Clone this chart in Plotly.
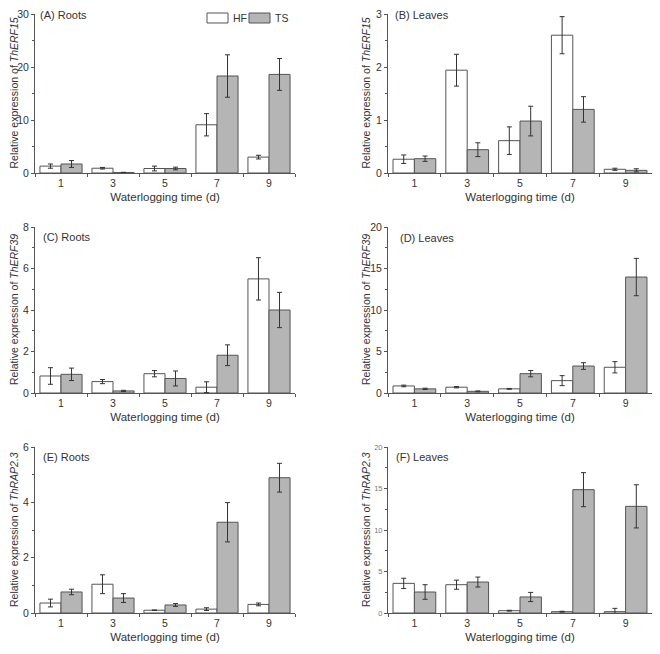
import plotly.graph_objects as go

days = ["1", "3", "5", "7", "9"]
series_names = ["HF", "TS"]

# (A) ThERF15 roots
a_hf = [1.3, 0.9, 0.85, 9.1, 3.0]
a_hf_err = [0.4, 0.15, 0.45, 2.1, 0.35]
a_ts = [1.7, 0.1, 0.85, 18.3, 18.6]
a_ts_err = [0.65, 0.03, 0.25, 4.0, 3.0]
# (B) ThERF15 leaves
b_hf = [0.26, 1.94, 0.61, 2.6, 0.07]
b_hf_err = [0.08, 0.3, 0.26, 0.35, 0.02]
b_ts = [0.27, 0.44, 0.98, 1.2, 0.05]
b_ts_err = [0.05, 0.13, 0.28, 0.24, 0.03]
# (C) ThERF39 roots
c_hf = [0.82, 0.55, 0.93, 0.28, 5.5]
c_hf_err = [0.4, 0.1, 0.15, 0.26, 1.02]
c_ts = [0.9, 0.1, 0.7, 1.82, 4.0]
c_ts_err = [0.3, 0.03, 0.36, 0.5, 0.85]
# (D) ThERF39 leaves
d_hf = [0.85, 0.7, 0.5, 1.49, 3.1]
d_hf_err = [0.1, 0.08, 0.05, 0.6, 0.68]
d_ts = [0.5, 0.2, 2.33, 3.25, 13.97]
d_ts_err = [0.08, 0.05, 0.38, 0.4, 2.25]
# (E) ThRAP2.3 roots
e_hf = [0.36, 1.04, 0.1, 0.14, 0.31]
e_hf_err = [0.14, 0.34, 0.01, 0.05, 0.05]
e_ts = [0.76, 0.54, 0.29, 3.28, 4.89]
e_ts_err = [0.1, 0.16, 0.05, 0.71, 0.52]
# (F) ThRAP2.3 leaves
f_hf = [3.57, 3.41, 0.28, 0.16, 0.16]
f_hf_err = [0.62, 0.55, 0.05, 0.05, 0.4]
f_ts = [2.53, 3.73, 1.93, 14.86, 12.85]
f_ts_err = [0.88, 0.6, 0.55, 2.05, 2.6]

panel_labels = ["(A) Roots", "(B) Leaves", "(C) Roots", "(D) Leaves", "(E) Roots", "(F) Leaves"]
genes = ["ThERF15", "ThERF15", "ThERF39", "ThERF39", "ThRAP2.3", "ThRAP2.3"]
y_max = [30, 3, 8, 20, 6, 20]
y_dtick = [10, 1, 2, 5, 2, 5]

panels = [
    (a_hf, a_hf_err, a_ts, a_ts_err),
    (b_hf, b_hf_err, b_ts, b_ts_err),
    (c_hf, c_hf_err, c_ts, c_ts_err),
    (d_hf, d_hf_err, d_ts, d_ts_err),
    (e_hf, e_hf_err, e_ts, e_ts_err),
    (f_hf, f_hf_err, f_ts, f_ts_err),
]

# page body has an 8px margin, so the figure is sized to fit the window
W, H = 652, 646
FONT = "Liberation Sans, Arial, sans-serif"
TXT = "#333333"
LINE = "#555555"
fill_colors = ["#ffffff", "#b5b5b5"]

col_px = [(27, 287), (380, 644)]
row_px = [(6, 165), (219, 385), (439, 605)]
ytitle_x_px = [6, 358]
label_px = [(30, 7), (385, 7), (33, 229), (390, 230), (33, 449), (386, 449)]

fig = go.Figure()
layout = {}
annotations = []
shapes = []

for i, (hf, hf_err, ts, ts_err) in enumerate(panels):
    r, c = divmod(i, 2)
    n = i + 1
    xa = "x" if n == 1 else f"x{n}"
    ya = "y" if n == 1 else f"y{n}"
    for s, (vals, errs) in enumerate([(hf, hf_err), (ts, ts_err)]):
        fig.add_trace(go.Bar(
            x=days, y=vals, name=series_names[s],
            xaxis=xa, yaxis=ya,
            marker=dict(color=fill_colors[s], line=dict(color=LINE, width=1)),
            error_y=dict(type="data", array=errs, visible=True, color="#333333", thickness=1, width=2.5),
            showlegend=False,
        ))
    x0, x1 = col_px[c]
    y0, y1 = row_px[r]
    small = (i == 5)
    layout[f"xaxis{'' if n == 1 else n}"] = dict(
        domain=[x0 / W, x1 / W], anchor=ya,
        type="category", range=[-0.5, 4.5],
        showline=True, linecolor=LINE, linewidth=1,
        ticks="outside", tickson="boundaries", ticklen=3, tickcolor=LINE,
        tickfont=dict(size=10.5, color=TXT, family=FONT),
        showgrid=False, zeroline=False,
        title=dict(text="Waterlogging time (d)", font=dict(size=11.5, color=TXT, family=FONT), standoff=5),
        automargin=False, fixedrange=True,
    )
    layout[f"yaxis{'' if n == 1 else n}"] = dict(
        domain=[1 - y1 / H, 1 - y0 / H], anchor=xa,
        range=[0, y_max[i]], dtick=y_dtick[i], tick0=0,
        showline=True, linecolor=LINE, linewidth=1,
        ticks="outside", ticklen=3, tickcolor=LINE,
        minor=dict(dtick=y_dtick[i] / 2, ticks="outside", ticklen=2, tickcolor=LINE),
        tickfont=dict(size=(7.5 if small else 10.5), color=("#777777" if small else TXT), family=FONT),
        ticklabeloverflow="allow",
        showgrid=False, zeroline=False,
        automargin=False, fixedrange=True,
    )
    # y-axis title
    annotations.append(dict(
        text=f"Relative expression of <i>{genes[i]}</i>", xref="paper", yref="paper",
        x=ytitle_x_px[c] / W, y=1 - (y0 + y1) / 2 / H, xanchor="center", yanchor="middle",
        textangle=-90, showarrow=False, font=dict(size=10.5, color=TXT, family=FONT),
    ))
    # panel label
    lx, ly = label_px[i]
    annotations.append(dict(
        text=panel_labels[i], xref="paper", yref="paper",
        x=lx / W, y=1 - ly / H, xanchor="left", yanchor="middle", showarrow=False,
        font=dict(size=11, color=TXT, family=FONT),
    ))

# legend (swatches + labels) in panel A, top right
legend_box_px = [(199, 220), (241, 262)]
legend_text_px = [223, 265]
for s in range(2):
    shapes.append(dict(type="rect", xref="paper", yref="paper",
                       x0=legend_box_px[s][0] / W, x1=legend_box_px[s][1] / W,
                       y0=1 - 15 / H, y1=1 - 5 / H,
                       fillcolor=fill_colors[s], line=dict(color=LINE, width=1)))
    annotations.append(dict(text=series_names[s], xref="paper", yref="paper",
                            x=legend_text_px[s] / W, y=1 - 10 / H, xanchor="left", yanchor="middle",
                            showarrow=False, font=dict(size=10.5, color=TXT, family=FONT)))

fig.update_layout(
    **layout,
    annotations=annotations,
    shapes=shapes,
    width=W, height=H,
    margin=dict(l=0, r=0, t=0, b=0),
    paper_bgcolor="white", plot_bgcolor="white",
    barmode="group", bargap=0.19, bargroupgap=0,
    font=dict(family=FONT, color=TXT),
    showlegend=False,
)

fig.write_html("out.html")
